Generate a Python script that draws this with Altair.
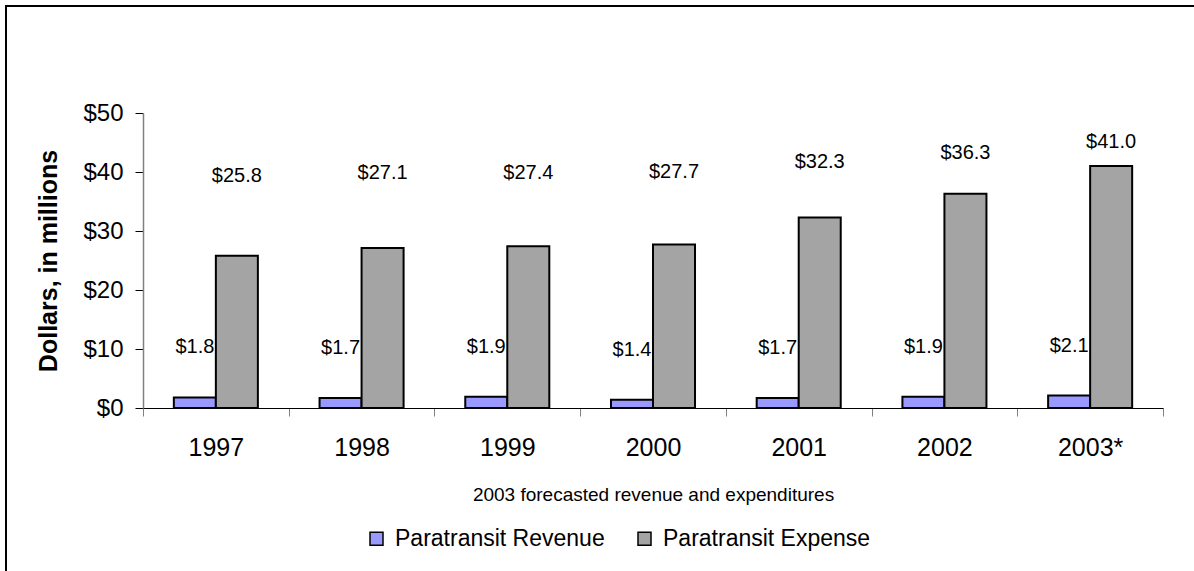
import altair as alt
import pandas as pd

years = ["1997", "1998", "1999", "2000", "2001", "2002", "2003*"]
revenue = [1.8, 1.7, 1.9, 1.4, 1.7, 1.9, 2.1]
expense = [25.8, 27.1, 27.4, 27.7, 32.3, 36.3, 41.0]
series = ["Paratransit Revenue", "Paratransit Expense"]
colors = ["#9999FF", "#A4A4A4"]
y_ticks = [0, 10, 20, 30, 40, 50]

rows = []
for i, yr in enumerate(years):
    rows.append({"year": yr, "series": series[0], "value": revenue[i]})
    rows.append({"year": yr, "series": series[1], "value": expense[i]})
df = pd.DataFrame(rows)

W, H = 1020, 295
FONT = "Liberation Sans"

x_axis = alt.Axis(
    title="2003 forecasted revenue and expenditures",
    labelAngle=0, tickBand="extent", domainColor="black", domainWidth=1,
    tickColor="#808080", tickWidth=1, tickSize=8, labelFontSize=25,
    labelPadding=19, labelColor="black", titleFontSize=19,
    titleFontWeight="normal", titlePadding=25, titleColor="black",
)
y_axis = alt.Axis(
    values=y_ticks, format="$,.0f", title="Dollars, in millions",
    grid=False, domainColor="#808080", domainWidth=1.5, tickColor="black",
    tickSize=8, labelFontSize=24, labelPadding=12, labelColor="black",
    titleFontSize=25, titleFontWeight="bold", titlePadding=21,
    titleColor="black",
)

x_enc = alt.X("year:N", sort=years,
              scale=alt.Scale(paddingInner=0, paddingOuter=0), axis=x_axis)
xo_enc = alt.XOffset("series:N", sort=series,
                     scale=alt.Scale(paddingInner=0, paddingOuter=0.734))
y_scale = alt.Scale(domain=[0, 50])

bars = alt.Chart(df).mark_bar(stroke="black", strokeWidth=2, opacity=1).encode(
    x=x_enc, xOffset=xo_enc,
    y=alt.Y("value:Q", scale=y_scale, axis=y_axis),
    color=alt.Color(
        "series:N", sort=series,
        scale=alt.Scale(domain=series, range=colors),
        legend=alt.Legend(
            title=None, orient="none", direction="horizontal",
            legendX=222, legendY=414, symbolType="square", symbolSize=169,
            symbolStrokeColor="black", symbolStrokeWidth=1.5,
            labelFontSize=23, labelColor="black", columnPadding=28,
            labelOffset=7, labelLimit=400,
        ),
    ),
)

rev_labels = alt.Chart(df).transform_filter(
    alt.datum.series == series[0]
).mark_text(dy=-50, fontSize=20, color="black", baseline="middle").encode(
    x=x_enc, xOffset=xo_enc,
    y=alt.Y("value:Q", scale=y_scale, axis=y_axis),
    text=alt.Text("value:Q", format="$.1f"),
)

exp_labels = alt.Chart(df).transform_filter(
    alt.datum.series == series[1]
).transform_calculate(
    label_y="0.38 * datum.value + 29.5"
).mark_text(fontSize=20, color="black", baseline="middle").encode(
    x=x_enc, xOffset=xo_enc,
    y=alt.Y("label_y:Q", scale=y_scale, axis=y_axis),
    text=alt.Text("value:Q", format="$.1f"),
)

frame_df = pd.DataFrame({"a": [0]})
frame_top = alt.Chart(frame_df).mark_rule(color="black", strokeWidth=2).encode(
    x=alt.value(-138), x2=alt.value(1200), y=alt.value(-107),
)
frame_left = alt.Chart(frame_df).mark_rule(color="black", strokeWidth=2).encode(
    x=alt.value(-137), y=alt.value(-108), y2=alt.value(600),
)

chart = alt.layer(bars, rev_labels, exp_labels, frame_top, frame_left).properties(
    width=W, height=H,
    autosize=alt.AutoSizeParams(type="none"),
    padding={"left": 143, "top": 113, "right": 31, "bottom": 163},
    background="white",
).configure(font=FONT).configure_view(strokeWidth=0)

chart.save("out.html", embed_options={"renderer": "svg", "actions": False})
